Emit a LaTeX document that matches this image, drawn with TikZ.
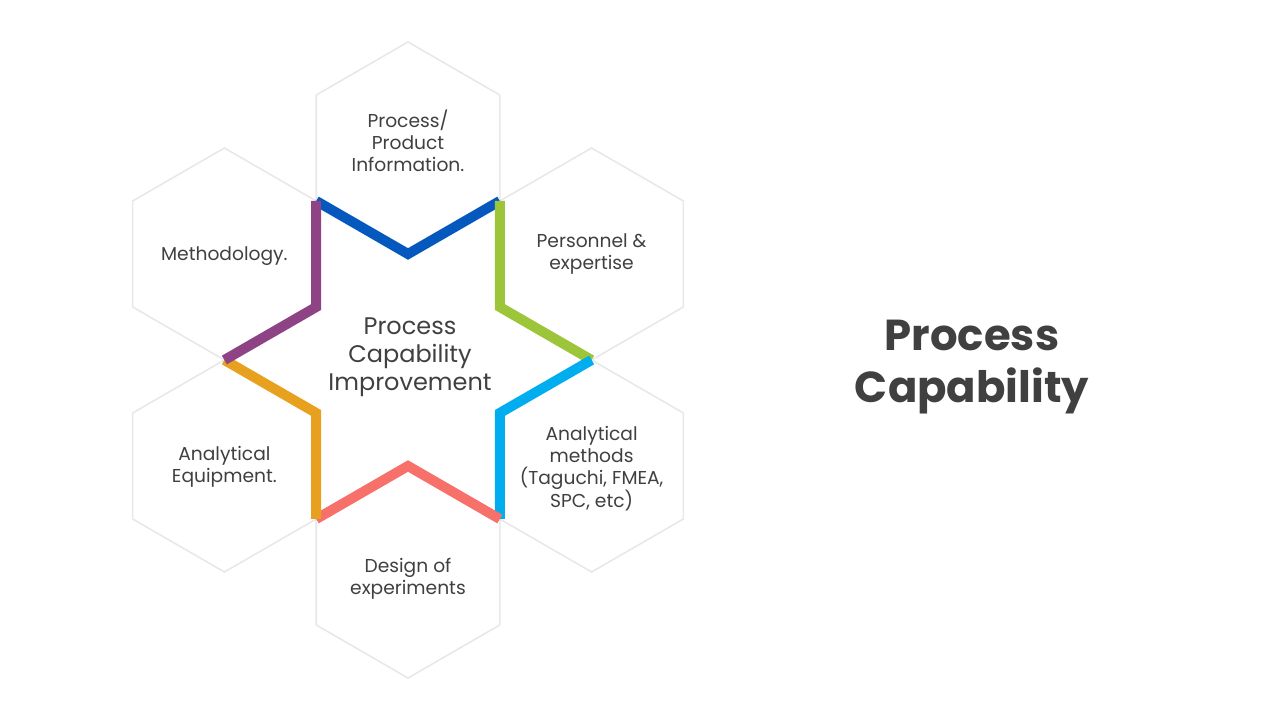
\documentclass[tikz,border=0pt]{standalone}
\usepackage{fontspec}
\setmainfont{Poppins}
\usepackage{tikz}
\usetikzlibrary{shapes.geometric}
\definecolor{textgray}{HTML}{404040}
\definecolor{rimblue}{HTML}{0559BE}
\definecolor{rimgreen}{HTML}{9DC53A}
\definecolor{rimcyan}{HTML}{00AEEF}
\definecolor{rimsalmon}{HTML}{F8706A}
\definecolor{rimorange}{HTML}{E8A11E}
\definecolor{rimpurple}{HTML}{8E4385}
\begin{document}
\begin{tikzpicture}[
  x=0.75pt,y=0.75pt,
  hexbox/.style={regular polygon,regular polygon sides=6,shape border rotate=90,
    minimum size=159pt,inner sep=0pt,outer sep=0pt,draw=black!9,line width=1.2pt,fill=white},
  hextext/.style={align=center,text=textgray,font=\fontsize{14}{16.5}\selectfont},
  rim/.style={line width=7.5pt,line join=miter}
]
\useasboundingbox (0,0) rectangle (1280,720);
\node[hexbox] (info) at (408,572) {};
\node[hexbox] (staff) at (591.6,466) {};
\node[hexbox] (methods) at (591.6,254) {};
\node[hexbox] (design) at (408,148) {};
\node[hexbox] (equip) at (224.4,254) {};
\node[hexbox] (method) at (224.4,466) {};
\node[hextext] (infotext) at ([yshift=5.25pt]info.center) {Process/\\Product\\Information.};
\node[hextext] (stafftext) at (staff.center) {Personnel \&\\expertise};
\node[hextext] (methodstext) at ([yshift=-2pt]methods.center) {Analytical\\methods\\(Taguchi, FMEA,\\SPC, etc)};
\node[hextext] (designtext) at ([yshift=-5.25pt]design.center) {Design of\\experiments};
\node[hextext] (equiptext) at ([yshift=-0.75pt]equip.center) {Analytical\\Equipment.};
\node[hextext] (methodtext) at ([yshift=-1.5pt]method.center) {Methodology.};
\draw[rim,rimblue] ([shift={(210:106)}]info.center) -- ([shift={(270:106)}]info.center) -- ([shift={(330:106)}]info.center);
\draw[rim,rimgreen] ([shift={(150:106)}]staff.center) -- ([shift={(210:106)}]staff.center) -- ([shift={(270:106)}]staff.center);
\draw[rim,rimcyan] ([shift={(90:106)}]methods.center) -- ([shift={(150:106)}]methods.center) -- ([shift={(210:106)}]methods.center);
\draw[rim,rimsalmon] ([shift={(150:106)}]design.center) -- ([shift={(90:106)}]design.center) -- ([shift={(30:106)}]design.center);
\draw[rim,rimorange] ([shift={(90:106)}]equip.center) -- ([shift={(30:106)}]equip.center) -- ([shift={(330:106)}]equip.center);
\draw[rim,rimpurple] ([shift={(270:106)}]method.center) -- ([shift={(330:106)}]method.center) -- ([shift={(30:106)}]method.center);
\node[align=center,text=textgray,font=\fontsize{18}{21}\selectfont] (core) at (410,363) {Process\\Capability\\Improvement};
\node[align=center,text=textgray,font=\fontsize{32.5}{39}\selectfont\bfseries] (title) at (972,353) {Process\\Capability};
\end{tikzpicture}
\end{document}
